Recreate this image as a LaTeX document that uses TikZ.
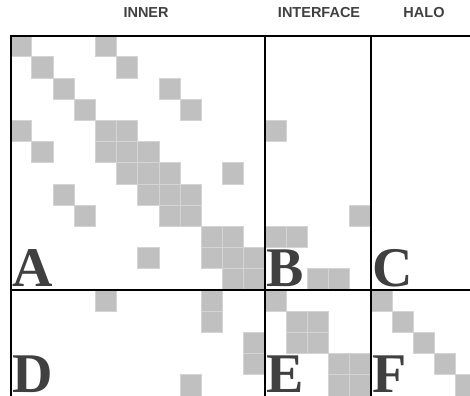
\documentclass[tikz,border=0pt]{standalone}
\usepackage{fontspec}
\setmainfont{Liberation Serif}
\setsansfont{Liberation Sans}
\usepackage{tikz}
\definecolor{cellgray}{HTML}{C0C0C0}
\definecolor{celledge}{HTML}{D4D4D4}
\definecolor{labelgray}{HTML}{404040}

\begin{document}
\begin{tikzpicture}[x=21.2pt, y=-21.2pt, every node/.style={text=labelgray},
	head/.style={font=\sffamily\bfseries\fontsize{14.5}{16}\selectfont, anchor=base},
	blockname/.style={font=\bfseries\fontsize{56}{60}\selectfont, anchor=base west, inner sep=0pt},
	nz/.style={fill=cellgray, draw=celledge, line width=0.6pt}]
	\useasboundingbox (-0.5,-1.675) rectangle (21.67,16.96);
	\clip (-0.5,-1.675) rectangle (21.67,16.96);
	% nonzero entries: row/columns
	\foreach \r/\cs in {0/{0,4}, 1/{1,5}, 2/{2,7}, 3/{3,8}, 4/{0,4,5,12}, 5/{1,4,5,6},
		6/{5,6,7,10}, 7/{2,6,7,8}, 8/{3,7,8,16}, 9/{9,10,12,13}, 10/{6,9,10,11},
		11/{10,11,14,15}, 12/{4,9,12,17}, 13/{9,13,14,18}, 14/{11,13,14,19},
		15/{11,15,16,20}, 16/{8,15,16,21}}
		\foreach \c in \cs
			\filldraw[nz] (\c,\r) rectangle ++(1,1);
	% block borders
	\draw[line width=2pt] (0,18) -- (0,0) -- (22,0);
	\draw[line width=2pt] (12,0) -- (12,18);
	\draw[line width=2pt] (17,0) -- (17,18);
	\draw[line width=2pt] (0,12) -- (22,12);
	\node[head] (inner) at (6.39,-0.86) {INNER};
	\node[head] (iface) at (14.55,-0.86) {INTERFACE};
	\node[head] (halo) at (19.5,-0.86) {HALO};
	\node[blockname] (A) at (0.08,11.86) {A};
	\node[blockname] (B) at (12.08,11.86) {B};
	\node[blockname] (C) at (17.08,11.86) {C};
	\node[blockname] (D) at (0.08,16.86) {D};
	\node[blockname] (E) at (12.08,16.86) {E};
	\node[blockname] (F) at (17.08,16.86) {F};
\end{tikzpicture}
\end{document}
